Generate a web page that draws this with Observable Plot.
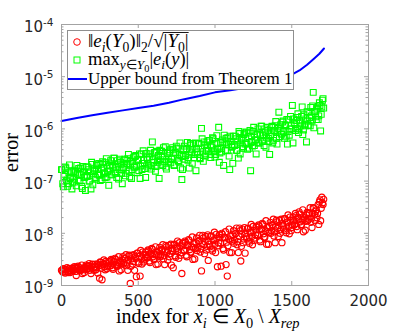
<!DOCTYPE html>
<html>
<head>
<meta charset="utf-8">
<script src="https://cdn.jsdelivr.net/npm/d3@7"></script>
<script src="https://cdn.jsdelivr.net/npm/@observablehq/plot@0.6"></script>
<style>
  html, body { margin: 0; padding: 0; background: #fff; }
  svg { display: block; }
</style>
</head>
<body>
<script>
// index spacing between the sampled points (index for x_i); second sample set is offset by half a step
const indexStep = 8;
const indexOffsetB = 4;

// log10 of ||e_i(Y0)||_2 / sqrt(|Y0|)  (red circles), samples at index 0, 8, 16, ...
const redLog10A = [
  -8.71,-8.74,-8.69,-8.76,-8.70,-8.73,-8.68,-8.75,-8.72,-8.70,
  -8.71,-8.66,-8.81,-8.68,-8.65,-8.72,-8.69,-8.77,-8.67,-8.70,
  -8.61,-8.68,-8.63,-8.71,-8.77,-8.59,-8.66,-8.64,-8.70,-8.59,
  -8.60,-8.86,-8.56,-8.89,-8.59,-8.64,-8.54,-8.68,-8.62,-8.57,
  -8.62,-8.52,-8.69,-8.55,-8.50,-8.63,-8.57,-8.72,-8.53,-8.59,
  -8.45,-8.56,-8.48,-8.62,-8.71,-8.42,-8.96,-8.49,-8.59,-8.41,
  -8.45,-8.83,-8.38,-8.58,-8.82,-8.49,-8.36,-8.55,-8.47,-8.41,
  -8.47,-8.34,-8.56,-8.38,-8.31,-8.49,-8.41,-8.60,-8.36,-8.43,
  -8.27,-8.41,-8.31,-8.49,-8.60,-8.23,-8.37,-8.32,-8.45,-8.21,
  -8.29,-8.66,-8.21,-8.46,-8.26,-8.35,-8.18,-8.42,-8.77,-8.24,
  -8.33,-8.17,-8.45,-8.23,-8.14,-8.36,-8.26,-8.50,-8.20,-8.29,
  -8.09,-8.27,-8.14,-8.36,-8.72,-8.04,-8.22,-8.16,-8.32,-8.03,
  -8.15,-8.26,-8.05,-8.34,-8.12,-8.21,-8.02,-8.64,-8.18,-8.08,
  -8.63,-8.02,-8.32,-8.08,-8.60,-8.82,-8.11,-8.37,-8.05,-8.15,
  -7.95,-8.13,-8.00,-8.22,-8.37,-7.90,-8.53,-8.02,-8.18,-7.89,
  -8.00,-8.11,-7.90,-8.19,-7.97,-8.06,-7.87,-8.14,-8.03,-7.93,
  -8.03,-7.86,-8.16,-7.92,-7.83,-8.07,-7.95,-8.21,-7.89,-7.99,
  -7.79,-7.95,-7.84,-8.05,-8.18,-7.75,-7.91,-7.85,-8.00,-7.73,
  -7.81,-7.92,-7.72,-7.99,-7.78,-7.87,-7.69,-7.95,-7.84,-7.75,
  -7.82,-7.66,-7.93,-7.72,-7.63,-7.84,-7.75,-7.97,-7.69,-7.77,
  -7.60,-7.73,-7.62,-7.79,-7.89,-7.51,-7.64,-7.58,-7.70,-7.45,
  -7.40,-7.76,-7.31,-7.45
];
// red circles, samples at index 4, 12, 20, ...
const redLog10B = [
  -8.71,-8.68,-8.74,-8.70,-8.66,-8.75,-8.68,-8.72,-8.67,-8.71,
  -8.64,-8.73,-8.66,-8.63,-8.69,-8.71,-8.61,-8.68,-8.75,-8.65,
  -8.69,-8.62,-8.58,-8.68,-8.64,-8.60,-8.71,-8.59,-8.66,-8.76,
  -8.62,-8.55,-8.67,-8.59,-8.51,-8.70,-8.57,-8.64,-8.54,-8.62,
  -8.50,-8.66,-8.54,-8.48,-8.60,-8.63,-8.45,-8.57,-8.70,-8.51,
  -8.59,-8.48,-8.41,-8.57,-8.51,-8.44,-8.63,-8.42,-8.54,-8.71,
  -8.48,-8.38,-8.55,-8.44,-8.33,-8.59,-8.41,-8.51,-8.36,-8.47,
  -8.32,-8.53,-8.38,-8.29,-8.45,-8.50,-8.26,-8.41,-8.59,-8.34,
  -8.45,-8.31,-8.22,-8.43,-8.35,-8.26,-8.51,-8.23,-8.39,-8.61,
  -8.34,-8.22,-8.43,-8.29,-8.15,-8.48,-8.24,-8.37,-8.19,-8.33,
  -8.15,-8.42,-8.22,-8.12,-8.31,-8.37,-8.07,-8.27,-8.49,-8.18,
  -8.33,-8.15,-8.04,-8.30,-8.20,-8.09,-8.39,-8.06,-8.25,-8.52,
  -8.21,-8.06,-8.30,-8.14,-7.98,-8.37,-8.10,-8.24,-8.03,-8.19,
  -8.00,-8.29,-8.08,-7.97,-8.17,-8.24,-7.92,-8.13,-8.37,-8.03,
  -8.19,-8.01,-7.90,-8.16,-8.06,-7.95,-8.25,-7.92,-8.11,-8.38,
  -8.06,-7.91,-8.15,-7.99,-7.83,-8.22,-7.95,-8.09,-7.88,-8.04,
  -7.84,-8.13,-7.92,-7.81,-8.01,-8.08,-7.76,-7.97,-8.21,-7.87,
  -8.00,-7.84,-7.73,-7.97,-7.88,-7.78,-8.06,-7.75,-7.93,-8.18,
  -7.86,-7.72,-7.95,-7.80,-7.65,-8.01,-7.75,-7.89,-7.69,-7.84,
  -7.62,-7.87,-7.69,-7.59,-7.78,-7.83,-7.55,-7.73,-7.94,-7.65,
  -7.76,-7.61,-7.51,-7.71,-7.62,-7.52,-7.76,-7.55,-7.62,-7.83,
  -7.36,-7.52,-7.42,-7.35
];

// log10 of max_{y in Y0} |e_i(y)|  (green squares), samples at index 0, 8, 16, ...
const greenLog10A = [
  -6.78,-7.05,-6.91,-6.73,-7.00,-7.10,-6.84,-6.95,-6.81,-7.02,
  -6.96,-6.79,-7.09,-6.85,-6.76,-7.00,-6.88,-7.14,-6.82,-6.92,
  -6.73,-6.91,-6.78,-7.00,-7.15,-6.68,-6.86,-6.80,-6.96,-6.67,
  -6.78,-6.89,-6.68,-6.97,-6.75,-6.84,-6.65,-6.92,-6.81,-6.71,
  -6.61,-6.88,-6.74,-6.56,-6.83,-6.93,-6.67,-6.78,-6.64,-6.85,
  -6.77,-6.60,-6.90,-6.66,-6.57,-6.81,-6.69,-6.95,-6.63,-6.73,
  -6.53,-6.71,-6.58,-6.80,-6.95,-6.48,-6.66,-6.60,-6.76,-6.47,
  -6.58,-6.69,-6.48,-6.77,-6.25,-6.64,-6.45,-6.72,-6.61,-6.51,
  -6.41,-6.68,-6.54,-6.36,-6.63,-6.73,-6.47,-6.58,-6.44,-6.65,
  -6.57,-6.40,-6.70,-6.46,-6.37,-6.61,-6.49,-6.75,-6.97,-6.53,
  -6.33,-6.51,-6.38,-6.60,-6.75,-6.28,-6.46,-6.40,-6.56,-6.27,
  -6.38,-6.49,-6.28,-6.57,-5.99,-6.44,-6.25,-6.52,-6.41,-6.31,
  -6.22,-6.49,-6.35,-6.17,-6.44,-6.54,-6.28,-6.39,-5.97,-6.46,
  -6.38,-6.21,-6.70,-6.27,-6.18,-6.42,-6.30,-6.78,-6.24,-6.34,
  -6.14,-6.32,-6.19,-6.41,-6.56,-6.09,-6.27,-6.21,-6.37,-6.08,
  -6.18,-6.29,-6.08,-6.37,-6.80,-6.24,-6.05,-6.32,-6.21,-6.11,
  -6.00,-6.27,-6.13,-5.95,-6.22,-6.32,-6.06,-6.17,-6.03,-6.24,
  -6.14,-5.97,-6.27,-6.03,-5.94,-6.18,-6.06,-5.68,-6.00,-6.10,
  -5.87,-6.05,-5.92,-6.14,-6.29,-5.82,-6.00,-5.94,-5.55,-5.81,
  -5.88,-5.99,-5.78,-6.07,-5.85,-5.94,-5.58,-6.02,-5.91,-5.81,
  -5.67,-5.93,-5.78,-5.59,-5.85,-5.30,-5.67,-5.77,-5.62,-5.82,
  -5.50,-6.04,-5.58,-5.42
];
// green squares, samples at index 4, 12, 20, ...
const greenLog10B = [
  -6.78,-7.11,-6.87,-6.75,-6.98,-7.05,-6.69,-6.93,-7.15,-6.82,
  -7.02,-6.83,-6.70,-6.99,-6.88,-6.75,-7.10,-6.72,-6.93,-7.18,
  -6.89,-6.73,-7.00,-6.82,-6.64,-7.07,-6.77,-6.93,-6.70,-6.88,
  -6.66,-6.99,-6.75,-6.63,-6.86,-6.93,-6.57,-6.81,-7.08,-6.70,
  -6.88,-6.69,-6.56,-6.85,-6.74,-6.61,-6.96,-6.58,-6.79,-7.05,
  -6.74,-6.58,-6.85,-6.67,-6.49,-6.92,-6.62,-6.78,-6.55,-6.73,
  -6.51,-6.84,-6.60,-6.48,-6.71,-6.78,-6.42,-6.66,-6.93,-6.55,
  -6.73,-6.54,-6.41,-6.70,-6.59,-6.46,-6.81,-6.43,-6.64,-6.95,
  -6.59,-6.43,-6.70,-6.52,-6.34,-6.77,-6.47,-6.63,-6.40,-6.58,
  -6.36,-6.69,-6.45,-6.33,-6.56,-6.63,-6.27,-6.51,-6.78,-6.40,
  -6.58,-6.39,-6.26,-6.55,-6.44,-6.31,-6.66,-6.28,-6.49,-6.80,
  -6.44,-6.28,-6.55,-6.37,-6.19,-6.62,-6.32,-6.48,-6.25,-6.43,
  -6.22,-6.55,-6.31,-6.19,-6.42,-6.49,-6.13,-6.37,-6.64,-6.26,
  -6.44,-6.25,-6.12,-6.41,-6.30,-6.17,-6.52,-6.14,-6.35,-6.66,
  -6.30,-6.14,-6.41,-6.23,-6.05,-6.48,-6.18,-6.34,-6.11,-6.29,
  -6.06,-6.39,-6.15,-6.03,-6.26,-6.33,-5.97,-6.21,-6.48,-6.10,
  -6.27,-6.08,-5.95,-6.24,-6.13,-6.00,-6.35,-5.97,-6.18,-6.49,
  -6.11,-5.95,-6.22,-6.04,-5.86,-6.29,-5.99,-6.15,-5.92,-6.10,
  -5.85,-6.18,-5.94,-5.82,-6.05,-6.12,-5.76,-6.00,-6.27,-5.89,
  -6.03,-5.84,-5.71,-6.00,-5.89,-5.76,-6.11,-5.73,-5.94,-6.25,
  -5.85,-5.68,-5.94,-5.75,-5.56,-5.98,-5.67,-5.82,-5.58,-5.75,
  -5.55,-5.72,-5.45,-5.60
];

// Upper bound from Theorem 1 (blue line)
const blueIndex = [0, 50, 100, 200, 300, 400, 500, 600, 700, 800, 900, 1000, 1100, 1200, 1300, 1400, 1500, 1550, 1600, 1650, 1680, 1710];
const blueLog10 = [-5.85, -5.82, -5.79, -5.74, -5.69, -5.645, -5.60, -5.555, -5.50, -5.43, -5.37, -5.30, -5.26, -5.21, -5.15, -5.07, -4.96, -4.88, -4.77, -4.64, -4.56, -4.46];

// axis ticks
const xTicks = [0, 500, 1000, 1500, 2000];
const yTicks = [1e-9, 1e-8, 1e-7, 1e-6, 1e-5, 1e-4];
const yMinorTicks = [];
for (const p of [-9, -8, -7, -6, -5]) for (const m of [2,3,4,5,6,7,8,9]) yMinorTicks.push(m * Math.pow(10, p));

const toPoints = (arr, off) => arr.map((v, i) => ({x: off + i * indexStep, y: Math.pow(10, v)}));
const red = toPoints(redLog10A, 0).concat(toPoints(redLog10B, indexOffsetB));
const green = toPoints(greenLog10A, 0).concat(toPoints(greenLog10B, indexOffsetB));
const blue = blueIndex.map((x, i) => ({x, y: Math.pow(10, blueLog10[i])}));

const W = 407, H = 333, mL = 61, mR = 39, mT = 24, mB = 48;
const fw = W - mL - mR, fh = H - mT - mB;
const axisColor = "#a3a3a3";

const chart = Plot.plot({
  width: W, height: H,
  marginLeft: mL, marginRight: mR, marginTop: mT, marginBottom: mB,
  style: {fontFamily: "DejaVu Sans", fontSize: "15px", color: "#262626", background: "white", overflow: "visible"},
  x: {domain: [0, 2000]},
  y: {type: "log", domain: [1e-9, 1e-4]},
  marks: [
    Plot.dot(red, {x: "x", y: "y", r: 3.1, stroke: "#ff0000", strokeWidth: 1.15, fill: "none"}),
    Plot.dot(green, {x: "x", y: "y", symbol: "square", r: 3.3, stroke: "#00ff00", strokeWidth: 1.1, fill: "none"}),
    Plot.line(blue, {x: "x", y: "y", stroke: "#0000ff", strokeWidth: 2}),
    Plot.frame({stroke: axisColor}),
    Plot.tickX(xTicks, {x: d => d, insetTop: fh - 4, stroke: axisColor}),
    Plot.tickX(xTicks, {x: d => d, insetBottom: fh - 4, stroke: axisColor}),
    Plot.tickY(yTicks, {y: d => d, insetRight: fw - 4, stroke: axisColor}),
    Plot.tickY(yTicks, {y: d => d, insetLeft: fw - 4, stroke: axisColor}),
    Plot.tickY(yMinorTicks, {y: d => d, insetRight: fw - 2.5, stroke: axisColor}),
    Plot.tickY(yMinorTicks, {y: d => d, insetLeft: fw - 2.5, stroke: axisColor}),
    Plot.axisX({ticks: xTicks, tickSize: 0, tickPadding: 10, label: null, tickFormat: d => String(d), fill: "#262626"}),
    Plot.axisY({ticks: yTicks, tickSize: 0, tickPadding: 8, label: null, dy: 3, fill: "#262626",
      tickFormat: d => String(Math.round(Math.log10(d)))})
  ]
});
document.body.appendChild(chart);

const svg = d3.select(chart);

// superscript exponents on y tick labels
svg.selectAll('g[aria-label="y-axis tick label"] text').each(function () {
  const e = this.textContent;
  this.textContent = "";
  const t = d3.select(this);
  t.append("tspan").text("10");
  t.append("tspan").attr("dy", "-0.6em").attr("font-size", "10.5px").text(e);
});

const serif = "'Liberation Serif', 'Times New Roman', serif";

function richText(g, x, y, size, parts) {
  const t = g.append("text").attr("x", x).attr("y", y)
    .attr("font-family", serif).attr("font-size", size).attr("fill", "#000")
    .attr("text-anchor", "start")
    .style("white-space", "pre");
  let cur = 0;
  for (const [s, st] of parts) {
    const lvl = st.includes("2") ? 2 : st.includes("1") ? 1 : 0;
    const off = lvl === 0 ? 0 : lvl === 1 ? size * 0.27 : size * 0.42;
    const fs = lvl === 0 ? size : lvl === 1 ? size * 0.72 : size * 0.56;
    const ts = t.append("tspan").attr("dy", off - cur).attr("font-size", fs).text(s);
    if (st.includes("i")) ts.attr("font-style", "italic");
    cur = off;
  }
  return t;
}

// axis labels
richText(svg, 116, 323, 20, [
  ["index for ", ""], ["x", "i"], ["i", "i1"], [" \u2208 ", ""], ["X", "i"], ["0", "1"],
  [" \\ ", ""], ["X", "i"], ["rep", "i1"]
]);

svg.append("text")
  .attr("transform", `translate(18,${mT + fh / 2 - 2}) rotate(-90)`)
  .attr("text-anchor", "middle")
  .attr("font-family", serif).attr("font-size", 20).attr("fill", "#000")
  .text("error");

// legend
const lg = svg.append("g");
lg.append("rect").attr("x", 67.5).attr("y", 30.5).attr("width", 226).attr("height", 59)
  .attr("fill", "#fff").attr("stroke", "#8f8f8f").attr("stroke-width", 1);
lg.append("circle").attr("cx", 77).attr("cy", 42).attr("r", 3.3)
  .attr("fill", "none").attr("stroke", "#ff0000").attr("stroke-width", 1);
lg.append("rect").attr("x", 74).attr("y", 57).attr("width", 6).attr("height", 6)
  .attr("fill", "none").attr("stroke", "#00ff00").attr("stroke-width", 1);
lg.append("line").attr("x1", 68).attr("x2", 87).attr("y1", 79).attr("y2", 79)
  .attr("stroke", "#0000ff").attr("stroke-width", 2);

const l1parts = [["\u2016", ""], ["e", "i"], ["i", "i1"], ["(", ""], ["Y", "i"], ["0", "1"], [")\u2016", ""], ["2", "1"],
  ["/\u221A", ""], ["|", ""], ["Y", "i"], ["0", "1"], ["|", ""]];
const l1 = richText(lg, 88, 46.5, 19, l1parts);
// radical bar
{
  const full = l1parts.map(p => p[0]).join("");
  const ri = full.indexOf("\u221A");
  const node = l1.node();
  try {
    const x0 = node.getEndPositionOfChar(ri).x - 0.5;
    const x1 = node.getEndPositionOfChar(full.length - 1).x;
    lg.append("line").attr("x1", x0).attr("x2", x1).attr("y1", 32.5).attr("y2", 32.5)
      .attr("stroke", "#000").attr("stroke-width", 0.9);
  } catch (e) {}
}
richText(lg, 88, 64.5, 18.5, [["max", ""], ["y", "i1"], ["\u2208", "1"], ["Y", "i1"], ["0", "2"], ["|", ""], ["e", "i"], ["i", "i1"],
  ["(", ""], ["y", "i"], [")|", ""]]);
richText(lg, 88, 84, 17, [["Upper bound from Theorem 1", ""]]);
</script>
</body>
</html>
